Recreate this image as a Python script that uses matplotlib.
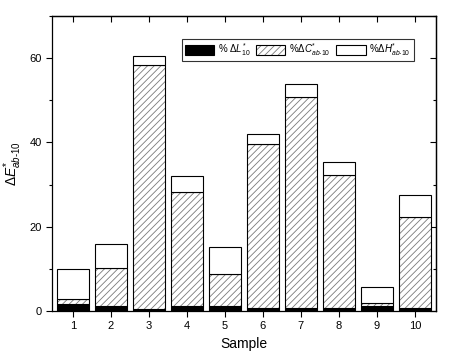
import numpy as np
import matplotlib.pyplot as plt
from matplotlib.ticker import MultipleLocator
from matplotlib.patches import Patch

plt.rcParams['font.family'] = ['Liberation Sans', 'DejaVu Sans']
plt.rcParams['mathtext.fontset'] = 'custom'
plt.rcParams['mathtext.rm'] = 'Liberation Sans'
plt.rcParams['mathtext.it'] = 'Liberation Sans:italic'
plt.rcParams['hatch.linewidth'] = 0.6

# datos
samples = np.arange(1, 11)
dL = [1.65, 1.25, 0.5, 1.2, 1.2, 0.7, 0.6, 0.6, 1.3, 0.6]
dC = [1.25, 8.95, 57.8, 27.0, 7.65, 39.0, 50.2, 31.65, 0.6, 21.7]
dH = [7.1, 5.6, 2.2, 3.8, 6.35, 2.3, 2.95, 3.05, 3.7, 5.3]

fig = plt.figure(figsize=(4.5, 3.63), dpi=100)
ax = fig.add_axes([0.1156, 0.1433, 0.853, 0.8127])

w = 0.82
b1 = ax.bar(samples, dL, w, color='black', edgecolor='black', linewidth=0.8)
bottom2 = np.array(dL)
# rayado gris, luego el contorno negro encima
ax.bar(samples, dC, w, bottom=bottom2, color='white', edgecolor='#7a7a7a',
       hatch='/////', linewidth=0)
ax.bar(samples, dC, w, bottom=bottom2, fill=False, edgecolor='black', linewidth=0.8)
bottom3 = bottom2 + np.array(dC)
b3 = ax.bar(samples, dH, w, bottom=bottom3, color='white', edgecolor='black', linewidth=0.8)

ax.set_xlim(0.45, 10.55)
ax.set_ylim(0, 70)
ax.set_xticks(samples)
ax.yaxis.set_major_locator(MultipleLocator(20))
ax.yaxis.set_minor_locator(MultipleLocator(10))
ax.tick_params(axis='both', which='both', direction='out', labelsize=8, width=0.8)
ax.tick_params(which='major', length=4)
ax.tick_params(which='minor', length=2.5)

# marcas en los ejes de arriba y derecha, hacia dentro
axr = ax.secondary_yaxis('right')
axr.yaxis.set_major_locator(MultipleLocator(20))
axr.yaxis.set_minor_locator(MultipleLocator(10))
axr.tick_params(which='both', direction='in', labelright=False, width=0.8)
axr.tick_params(which='major', length=4)
axr.tick_params(which='minor', length=2.5)
axt = ax.secondary_xaxis('top')
axt.set_xticks(samples)
axt.tick_params(direction='in', labeltop=False, length=4, width=0.8)

for s in ax.spines.values():
    s.set_linewidth(0.9)
axr.spines['right'].set_linewidth(0.9)
axt.spines['top'].set_linewidth(0.9)

ax.set_xlabel('Sample', fontsize=10)
ax.set_ylabel(r'$\Delta E^{*}_{ab\text{-}10}$', fontsize=10)

# parche de leyenda para el rayado (rayado + contorno)
h2a = Patch(facecolor='white', edgecolor='#7a7a7a', hatch='/////', linewidth=0)
h2b = Patch(fill=False, edgecolor='black', linewidth=0.8)

leg = ax.legend([b1, (h2a, h2b), b3],
                [r'% $\Delta L^{*}_{10}$', r'%$\Delta C^{*}_{ab\text{-}10}$',
                 r'%$\Delta H^{*}_{ab\text{-}10}$'],
                loc='upper right', ncol=3, fontsize=7, frameon=True, fancybox=False,
                edgecolor='black', handlelength=3.0, handleheight=1.1,
                handletextpad=0.4, columnspacing=0.6, borderpad=0.3,
                bbox_to_anchor=(0.955, 0.94))
leg.get_frame().set_linewidth(0.8)

fig.savefig('out.png', dpi=100)
